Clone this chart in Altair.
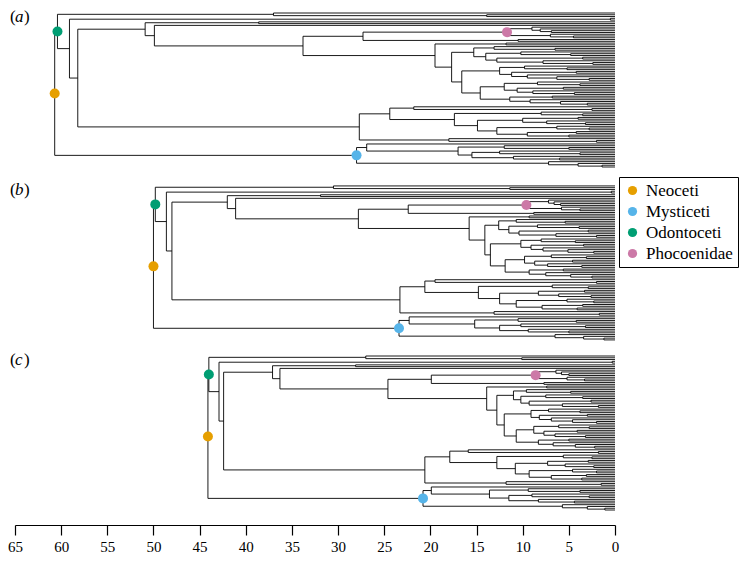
import altair as alt
import pandas as pd

# ---------------- data: shared topology (Newick, internal nodes labelled) -------------
PHY = "(t,(t,t)KOG)PHY"
PLA = "(t,t)PLA"
INI = "(t,t)INI"
PHO = "((t,(t,(t,t)P4)P3)P2,(t,(t,t)P6)P5)PHO"
MON = "(t,t)MON"
DT = "(t,t)DT"
E1 = "(t,(t,t)E3)E1"
E2 = "((t,(t,t)E6)E4,((t,t)E7,(t,(t,t)E9)E8)E5)E2"
F1 = "((t,(t,t)F5)F3,((t,t)F6,(t,(t,(t,t)F9)F8)F7)F4)F1"
F10 = "((t,(t,t)F14)F12,((t,t)F15,(t,(t,t)F17)F16)F13)F10"
F11 = "((t,t)F18,(t,(t,(t,t)F21)F20)F19)F11"
Z1 = "((t,(t,t)Z5)Z3,((t,(t,t)Z8)Z6,(((t,t)Z11,(t,(t,t)Z13)Z12)Z9,((t,(t,t)Z15)Z14,((t,t)Z17,(t,t)Z18)Z16)Z10)Z7)Z4)Z1"
Z2 = "(t,(t,t)Z19)Z2"
M1 = "(t,((t,(t,t)M5)M3,((t,(t,t)M8)M6,(t,(t,t)M9)M7)M4)M2)M1"
BAL = "(t,(t,(t,t)BA3)BA2)BAL"

DEL = f"({DT},(({E1},{E2})DB1,({F1},({F10},{F11})F2)DB2)DB)DEL"
DLA = f"({INI},(t,(({PHO},{MON})MP,{DEL})DOI)D2)DLA"
ZIP = f"({Z1},{Z2})ZIP"
ODO = f"({PHY},({PLA},({DLA},{ZIP})O3)O2)ODO"
MYS = f"({M1},{BAL})MYS"
NEWICK = f"({ODO},{MYS})NEO;"

NODE_NAMES = ["NEO", "ODO", "PHY", "KOG", "O2", "PLA", "O3", "DLA", "INI", "D2",
              "DOI", "MP", "PHO", "P2", "P3", "P4", "P5", "P6", "MON", "DEL",
              "DT", "DB", "DB1", "E1", "E3", "E2", "E4", "E6", "E5", "E7",
              "E8", "E9", "DB2", "F1", "F3", "F5", "F4", "F6", "F7", "F8",
              "F9", "F2", "F10", "F12", "F14", "F13", "F15", "F16", "F17", "F11",
              "F18", "F19", "F20", "F21", "ZIP", "Z1", "Z3", "Z5", "Z4", "Z6",
              "Z8", "Z7", "Z9", "Z11", "Z12", "Z13", "Z10", "Z14", "Z15", "Z16",
              "Z17", "Z18", "Z2", "Z19", "MYS", "M1", "M2", "M3", "M5", "M4",
              "M6", "M8", "M7", "M9", "BAL", "BA2", "BA3"]

AGES_A = [60.7, 60.4, 37.0, 13.9, 59.1, 0.5, 58.2, 50.9, 38.6, 49.9,
          33.8, 27.3, 11.7, 9.0, 8.1, 6.9, 7.0, 4.5, 10.5, 19.5,
          11.8, 17.7, 15.3, 13.1, 6.5, 14.0, 10.2, 4.8, 12.8, 3.5,
          7.8, 2.4, 16.6, 12.5, 9.8, 5.2, 11.2, 4.2, 9.5, 6.3,
          2.8, 14.6, 12.0, 8.4, 3.8, 10.6, 5.6, 8.9, 4.4, 11.4,
          6.8, 9.2, 5.9, 3.0, 27.7, 24.4, 21.8, 2.5, 17.4, 8.0,
          3.5, 14.9, 10.0, 4.0, 7.4, 3.2, 12.8, 6.3, 2.8, 9.5,
          4.2, 5.0, 18.0, 2.0, 28.0, 26.9, 17.0, 12.0, 5.0, 15.5,
          12.5, 3.8, 11.0, 6.0, 7.2, 4.0, 1.4]

AGES_B = [50.0, 49.8, 30.5, 11.4, 48.6, 0.4, 48.0, 42.0, 31.9, 41.1,
          27.8, 22.4, 9.6, 7.2, 6.6, 5.9, 5.8, 3.8, 8.8, 15.8,
          9.3, 14.1, 12.6, 10.7, 5.4, 11.5, 8.4, 3.9, 10.4, 2.9,
          6.4, 2.0, 13.5, 10.2, 8.0, 4.3, 9.1, 3.4, 7.8, 5.1,
          2.3, 11.9, 9.8, 6.9, 3.1, 8.7, 4.6, 7.3, 3.6, 9.3,
          5.6, 7.5, 4.8, 2.5, 23.3, 20.6, 19.5, 2.0, 14.8, 6.8,
          2.9, 12.5, 8.3, 3.3, 6.1, 2.6, 10.7, 5.2, 2.3, 7.9,
          3.5, 4.1, 13.1, 1.7, 23.4, 22.3, 15.2, 10.5, 4.2, 12.5,
          10.2, 3.2, 9.4, 5.0, 6.5, 3.4, 1.2]

AGES_C = [44.1, 44.0, 27.0, 10.1, 42.9, 0.3, 42.4, 37.1, 28.1, 36.3,
          24.6, 19.9, 8.6, 6.4, 5.8, 5.0, 5.2, 3.3, 7.7, 13.9,
          7.4, 12.8, 11.0, 9.6, 4.8, 10.2, 7.5, 3.5, 9.3, 2.6,
          5.7, 1.8, 12.0, 9.1, 7.2, 3.8, 8.2, 3.0, 6.9, 4.6,
          2.0, 10.7, 8.8, 6.1, 2.8, 7.7, 4.1, 6.5, 3.2, 8.3,
          5.0, 6.7, 4.3, 2.2, 20.6, 17.9, 15.9, 1.8, 12.8, 5.6,
          2.5, 10.8, 7.3, 2.9, 5.4, 2.3, 9.3, 4.6, 2.0, 6.9,
          3.1, 3.6, 11.8, 1.5, 20.8, 19.9, 13.6, 9.4, 3.8, 11.5,
          9.0, 2.8, 8.3, 4.4, 5.7, 3.0, 1.1]

PANEL_LETTERS = ["a", "b", "c"]
CLADES = ["Neoceti", "Mysticeti", "Odontoceti", "Phocoenidae"]
CLADE_NODES = ["NEO", "MYS", "ODO", "PHO"]
CLADE_COLORS = ["#E69F00", "#56B4E9", "#009E73", "#CC79A7"]
AXIS_TICKS = [65, 60, 55, 50, 45, 40, 35, 30, 25, 20, 15, 10, 5, 0]

# ---------------- layout constants (not data) ----------------
PANEL_OFFSETS = [0.0, 97.7, 193.8]     # vertical start of each tree, in tip rows
Y_MAX = 193.8 + 87
PLOT_W, PLOT_H = 600, 497
SERIF = "Liberation Serif, Times New Roman, Times, DejaVu Serif, serif"


def parse(s):
    pos = 0

    def node():
        nonlocal pos
        if s[pos] == "(":
            pos += 1
            kids = [node()]
            while s[pos] == ",":
                pos += 1
                kids.append(node())
            pos += 1  # ')'
            start = pos
            while s[pos] not in ",();":
                pos += 1
            return {"name": s[start:pos], "kids": kids}
        start = pos
        while s[pos] not in ",();":
            pos += 1
        return {"name": s[start:pos], "kids": []}

    return node()


TREE = parse(NEWICK)


def layout(ages_list, offset):
    ages = dict(zip(NODE_NAMES, ages_list))
    segs, nodes, counter = [], {}, [0]

    def rec(n, parent_age):
        if n["kids"]:
            age = ages[n["name"]]
            ys = [rec(k, age) for k in n["kids"]]
            y = sum(ys) / len(ys)
            segs.append(dict(x=age, x2=age, y=min(ys) + offset, y2=max(ys) + offset))
            nodes[n["name"]] = (age, y + offset)
        else:
            age = 0.0
            y = counter[0]
            counter[0] += 1
        if parent_age is not None:
            segs.append(dict(x=parent_age, x2=age, y=y + offset, y2=y + offset))
        return y

    rec(TREE, None)
    return segs, nodes


seg_rows, dot_rows, label_rows = [], [], []
for letter, ages_list, off in zip(PANEL_LETTERS, [AGES_A, AGES_B, AGES_C], PANEL_OFFSETS):
    segs, nodes = layout(ages_list, off)
    for s in segs:
        s["panel"] = letter
    seg_rows += segs
    for clade, nd in zip(CLADES, CLADE_NODES):
        age, y = nodes[nd]
        dot_rows.append(dict(panel=letter, clade=clade, x=age, y=y))
    label_rows.append(dict(letter=letter, y=off))

seg_df = pd.DataFrame(seg_rows)
dot_df = pd.DataFrame(dot_rows)
lab_df = pd.DataFrame(label_rows)

x_scale = alt.Scale(domain=[65, 0], nice=False, zero=False)
y_scale = alt.Scale(domain=[0, Y_MAX], reverse=True, nice=False, zero=False)

x_axis = alt.Axis(values=AXIS_TICKS, format="d", tickSize=10, offset=15,
                  domainColor="black", tickColor="black", domainWidth=1.2,
                  tickWidth=1.2, labelFont=SERIF, labelFontSize=15,
                  labelColor="black", labelPadding=4, grid=False, title=None,
                  labelFlush=False, labelOverlap=False)

rules = alt.Chart(seg_df).mark_rule(color="black", strokeWidth=0.9).encode(
    x=alt.X("x:Q", scale=x_scale, axis=x_axis),
    x2="x2:Q",
    y=alt.Y("y:Q", scale=y_scale, axis=None),
    y2="y2:Q",
)

dots = alt.Chart(dot_df).mark_circle(size=100, opacity=1).encode(
    x=alt.X("x:Q", scale=x_scale),
    y=alt.Y("y:Q", scale=y_scale),
    color=alt.Color(
        "clade:N",
        scale=alt.Scale(domain=CLADES, range=CLADE_COLORS),
        legend=alt.Legend(title=None, orient="none", legendX=604, legendY=164,
                          strokeColor="black", fillColor="white", padding=5,
                          labelFont=SERIF, labelFontSize=17,
                          labelColor="black", symbolSize=85, symbolType="circle",
                          symbolStrokeWidth=0, rowPadding=3, labelOffset=5),
    ),
)

lab_base = alt.Chart(lab_df)
paren_open = lab_base.mark_text(text="(", align="left", baseline="middle", dy=4,
                                font=SERIF, fontSize=17).encode(
    x=alt.value(-5), y=alt.Y("y:Q", scale=y_scale))
letter = lab_base.mark_text(align="left", baseline="middle", dy=4, font=SERIF,
                            fontSize=17, fontStyle="italic").encode(
    x=alt.value(0), y=alt.Y("y:Q", scale=y_scale), text="letter:N")
paren_close = lab_base.mark_text(text=")", align="left", baseline="middle", dy=4,
                                 font=SERIF, fontSize=17).encode(
    x=alt.value(9), y=alt.Y("y:Q", scale=y_scale))

chart = alt.layer(rules, dots, paren_open, letter, paren_close).properties(
    width=PLOT_W, height=PLOT_H,
    padding={"left": 7, "top": 5, "right": 125, "bottom": 45},
    autosize=alt.AutoSizeParams(type="none"),
).configure_view(stroke=None)

chart.save("out.html", embed_options={"renderer": "svg", "actions": False})
